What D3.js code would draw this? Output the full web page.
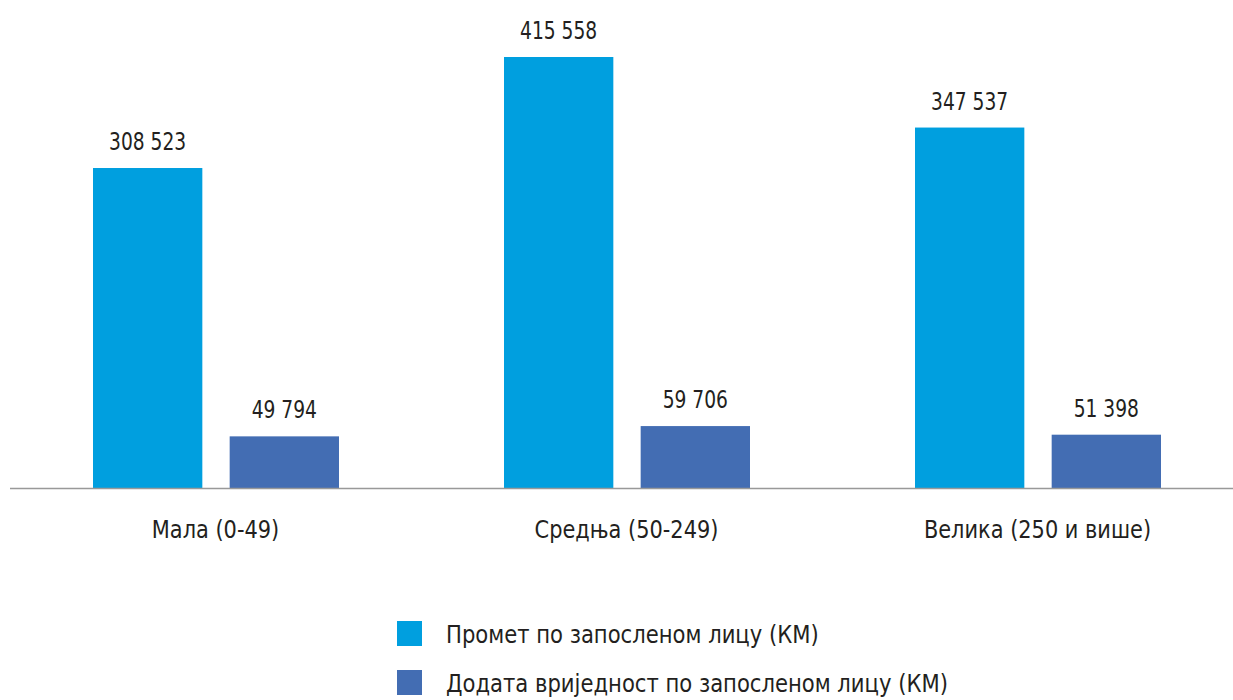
<!DOCTYPE html>
<html>
<head>
<meta charset="utf-8">
<script src="https://cdn.jsdelivr.net/npm/d3@7"></script>
<style>
  body { margin: 0; background: #fff; }
  text { font-family: "Liberation Sans Narrow", "DejaVu Sans Condensed", sans-serif; fill: #231f20; }
</style>
</head>
<body>
<svg id="chart" width="1233" height="700"></svg>
<script>
const categories = ["Мала (0-49)", "Средња (50-249)", "Велика (250 и више)"];
const seriesNames = ["Промет по запосленом лицу (КМ)", "Додата вриједност по запосленом лицу (КМ)"];
const turnover = [308523, 415558, 347537];
const addedValue = [49794, 59706, 51398];
const colors = ["#009fdf", "#436db3"];

const svg = d3.select("#chart");
const baseY = 488;

const x0 = d3.scaleBand().domain(categories).range([10, 1243]).paddingInner(0).paddingOuter(0);
const x1 = d3.scaleBand().domain([0, 1]).range([83, 329]).paddingInner(0.2);
const y = d3.scaleLinear().domain([0, 415558]).range([baseY, 57]);

const fmt = v => d3.format(",")(v).replace(/,/g, " ");

const rows = categories.map((c, i) => ({ cat: c, vals: [turnover[i], addedValue[i]] }));

const groups = svg.selectAll("g.grp")
    .data(rows)
    .join("g")
    .attr("class", "grp")
    .attr("transform", d => `translate(${x0(d.cat)},0)`);

groups.selectAll("rect")
    .data(d => d.vals.map((v, k) => ({ k: k, v: v })))
    .join("rect")
    .attr("x", d => x1(d.k))
    .attr("width", x1.bandwidth())
    .attr("y", d => y(d.v))
    .attr("height", d => baseY - y(d.v))
    .style("fill", d => colors[d.k]);

// value labels, squeezed to look like the condensed face of the original
groups.selectAll("text.val")
    .data(d => d.vals.map((v, k) => ({ k: k, v: v })))
    .join("text")
    .attr("class", "val")
    .attr("transform", d => `translate(${x1(d.k) + x1.bandwidth() / 2},${y(d.v) - 18}) scale(0.83,1)`)
    .attr("text-anchor", "middle")
    .style("font-size", "25px")
    .text(d => fmt(d.v));

// axis
svg.append("line")
    .attr("x1", 10).attr("x2", 1233)
    .attr("y1", baseY + 0.5).attr("y2", baseY + 0.5)
    .style("stroke", "#999").style("stroke-width", 1.5);

const xAxis = svg.append("g")
    .attr("transform", `translate(0,${baseY})`)
    .call(d3.axisBottom(x0).tickSize(0).tickPadding(0));
xAxis.select(".domain").remove();
xAxis.selectAll("text")
    .attr("dy", null)
    .attr("y", null)
    .attr("transform", "translate(0,50) scale(0.93,1)")
    .style("font-size", "25px")
    .style("font-family", "'Liberation Sans Narrow', 'DejaVu Sans Condensed', sans-serif")
    .style("fill", "#231f20");

// legend
const legend = svg.selectAll("g.leg")
    .data(seriesNames)
    .join("g")
    .attr("class", "leg")
    .attr("transform", (d, i) => `translate(397,${621 + i * 49})`);

legend.append("rect")
    .attr("width", 25).attr("height", 25)
    .style("fill", (d, i) => colors[i]);

legend.append("text")
    .attr("transform", "translate(49,22) scale(0.94,1)")
    .style("font-size", "25px")
    .text(d => d);
</script>
</body>
</html>
